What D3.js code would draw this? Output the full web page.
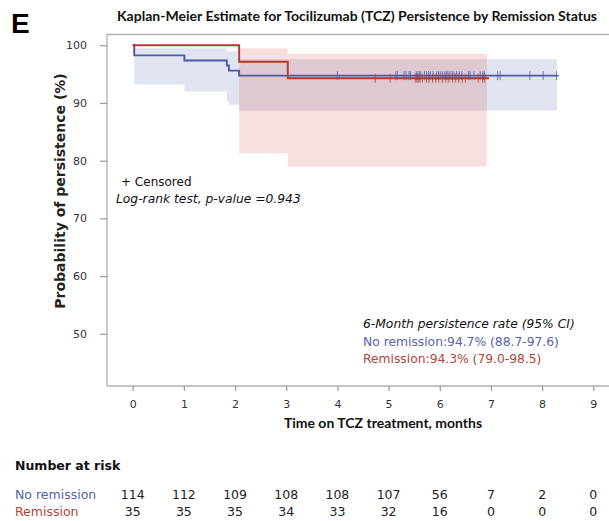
<!DOCTYPE html>
<html lang="en">
<head>
<meta charset="UTF-8">
<title>Kaplan-Meier Estimate for TCZ Persistence</title>
<script src="https://d3js.org/d3.v7.min.js"></script>
<style>
  body { margin: 0; background: #fff; }
  svg text { font-family: "DejaVu Sans", Verdana, sans-serif; }
</style>
</head>
<body>
<script>

// ---- data ----
var groups = ["No remission", "Remission"];
var groupColors = ["#4a5aa5", "#b3382d"];
var bandColors = ["rgba(60,80,160,0.16)", "rgba(215,75,75,0.18)"];

// step curves (time in months, survival %)
var noRemTimes = [0, 0.03, 1.01, 1.84, 1.88, 2.08, 8.32];
var noRemSurv  = [100, 98.25, 97.37, 96.49, 95.61, 94.74, 94.74];
var remTimes   = [0, 2.08, 3.03, 6.96];
var remSurv    = [100, 97.14, 94.29, 94.29];

// 95% CI bands
var noRemBandTimes = [0.03, 1.01, 1.84, 1.88, 2.08, 8.29];
var noRemLower     = [93.2, 92.0, 90.2, 89.7, 88.7, 88.7];
var noRemUpper     = [99.5, 99.5, 99.0, 99.0, 97.6, 97.6];
var remBandTimes   = [2.08, 3.03, 6.92];
var remLower       = [81.3, 79.0, 79.0];
var remUpper       = [99.5, 98.5, 98.5];

// censored times
var noRemCensor = [4.00, 5.14, 5.17, 5.30, 5.34, 5.40, 5.43, 5.54, 5.57, 5.60, 5.63, 5.70,
  5.74, 5.78, 5.82, 5.87, 5.94, 5.98, 6.02, 6.06, 6.10, 6.13, 6.16, 6.20, 6.24, 6.28,
  6.33, 6.38, 6.43, 6.56, 6.59, 6.67, 6.79, 6.84, 6.87, 7.13, 7.18, 7.76, 8.02, 8.28];
var remCensor = [4.74, 5.03, 5.52, 5.55, 5.58, 5.61, 5.66, 5.74, 5.79, 5.86, 5.92, 5.98,
  6.05, 6.12, 6.18, 6.25, 6.31, 6.37, 6.44, 6.50, 6.75, 6.84, 6.88];

var xTicks = [0, 1, 2, 3, 4, 5, 6, 7, 8, 9];
var yTicks = [50, 60, 70, 80, 90, 100];
var atRiskNoRem = [114, 112, 109, 108, 108, 107, 56, 7, 2, 0];
var atRiskRem   = [35, 35, 35, 34, 33, 32, 16, 0, 0, 0];

var legendLines = [
  "6-Month persistence rate (95% CI)",
  "No remission:94.7% (88.7-97.6)",
  "Remission:94.3% (79.0-98.5)"
];

// ---- layout ----
var width = 609, height = 521;
var frameLeft = 107, frameTop = 34.5, frameBottom = 386, frameRight = 609;

var svg = d3.select("body").append("svg")
    .attr("width", width)
    .attr("height", height);

var x = d3.scaleLinear().domain([0, 9]).range([132.7, 593.3]);
var y = d3.scaleLinear().domain([50, 100]).range([333.8, 45.3]);

// panel letter + title
svg.append("text")
    .attr("x", 11).attr("y", 33)
    .style("font-family", "'Liberation Sans', Arial, sans-serif")
    .style("font-weight", "bold")
    .style("font-size", "28px")
    .text("E");

svg.append("text")
    .attr("x", 117).attr("y", 21)
    .attr("textLength", 480)
    .attr("lengthAdjust", "spacingAndGlyphs")
    .style("font-family", "Lato, sans-serif")
    .style("font-weight", "bold")
    .style("font-size", "13px")
    .style("fill", "#111")
    .text("Kaplan-Meier Estimate for Tocilizumab (TCZ) Persistence by Remission Status");

// CI bands
function bandData(times, lo, hi) {
    return times.map(function(t, i) { return { t: t, lo: lo[i], hi: hi[i] }; });
}
var area = d3.area()
    .curve(d3.curveStepAfter)
    .x(function(d) { return x(d.t); })
    .y0(function(d) { return y(d.lo); })
    .y1(function(d) { return y(d.hi); });

svg.append("path")
    .datum(bandData(noRemBandTimes, noRemLower, noRemUpper))
    .attr("d", area)
    .style("fill", bandColors[0]);
svg.append("path")
    .datum(bandData(remBandTimes, remLower, remUpper))
    .attr("d", area)
    .style("fill", bandColors[1]);

// frame
var frame = svg.append("g").style("stroke", "#b0b0b0").style("stroke-width", 1.3).style("fill", "none");
frame.append("line").attr("x1", frameLeft).attr("x2", frameRight).attr("y1", frameTop).attr("y2", frameTop);
frame.append("line").attr("x1", frameLeft).attr("x2", frameLeft).attr("y1", frameTop).attr("y2", frameBottom);
frame.append("line").attr("x1", frameLeft).attr("x2", frameRight).attr("y1", frameBottom).attr("y2", frameBottom);

// axes
var yAxis = svg.append("g")
    .attr("transform", "translate(" + frameLeft + ",0)")
    .call(d3.axisLeft(y).tickValues(yTicks).tickSize(7).tickPadding(13));
var xAxis = svg.append("g")
    .attr("transform", "translate(0," + frameBottom + ")")
    .call(d3.axisBottom(x).tickValues(xTicks).tickSize(5).tickPadding(9));

[yAxis, xAxis].forEach(function(ax) {
    ax.select(".domain").remove();
    ax.selectAll(".tick line").style("stroke", "#9a9a9a").style("stroke-width", 1.2);
    ax.selectAll(".tick text")
        .style("font-family", "'DejaVu Sans', Verdana, sans-serif")
        .style("font-size", "11px")
        .style("fill", "#333");
});

// axis titles
svg.append("text")
    .attr("transform", "translate(65,191) rotate(-90)")
    .attr("text-anchor", "middle")
    .style("font-weight", "bold")
    .style("font-size", "14px")
    .style("fill", "#222")
    .text("Probability of persistence (%)");

svg.append("text")
    .attr("x", 383).attr("y", 428)
    .attr("text-anchor", "middle")
    .style("font-family", "Lato, sans-serif")
    .style("font-weight", "bold")
    .style("font-size", "14px")
    .style("fill", "#111")
    .text("Time on TCZ treatment, months");

// KM step lines
function stepData(times, surv) {
    return times.map(function(t, i) { return { t: t, s: surv[i] }; });
}
var line = d3.line()
    .curve(d3.curveStepAfter)
    .x(function(d) { return x(d.t); })
    .y(function(d) { return y(d.s); });

var curves = [
    { data: stepData(noRemTimes, noRemSurv), censor: noRemCensor, color: groupColors[0] },
    { data: stepData(remTimes, remSurv), censor: remCensor, color: groupColors[1] }
];

curves.forEach(function(c) {
    svg.append("path")
        .datum(c.data)
        .attr("d", line)
        .style("fill", "none")
        .style("stroke", c.color)
        .style("stroke-width", 1.9);
});

// censor marks: read survival at each time from the step function
curves.forEach(function(c) {
    var bis = d3.bisector(function(d) { return d.t; }).right;
    svg.append("g").selectAll("line")
        .data(c.censor)
        .enter().append("line")
        .attr("x1", function(t) { return x(t); })
        .attr("x2", function(t) { return x(t); })
        .attr("y1", function(t) { return y(c.data[bis(c.data, t) - 1].s) - 4.5; })
        .attr("y2", function(t) { return y(c.data[bis(c.data, t) - 1].s) + 4.5; })
        .style("stroke", c.color)
        .style("stroke-opacity", 0.75)
        .style("stroke-width", 1);
});

// annotations
svg.append("text")
    .attr("x", 121).attr("y", 186)
    .style("font-size", "12px").style("fill", "#111")
    .text("+ Censored");
svg.append("text")
    .attr("x", 116).attr("y", 203)
    .style("font-size", "12.3px").style("font-style", "italic").style("fill", "#111")
    .text("Log-rank test, p-value =0.943");

var legendColors = ["#111", "#5565a8", "#b4443a"];
svg.append("g").selectAll("text")
    .data(legendLines)
    .enter().append("text")
    .attr("x", 363)
    .attr("y", function(d, i) { return 328 + i * 17.5; })
    .style("font-size", "12.3px")
    .style("font-style", function(d, i) { return i === 0 ? "italic" : "normal"; })
    .style("fill", function(d, i) { return legendColors[i]; })
    .text(function(d) { return d; });

// number at risk table
svg.append("text")
    .attr("x", 15).attr("y", 470)
    .style("font-weight", "bold").style("font-size", "12.5px").style("fill", "#111")
    .text("Number at risk");

var rows = [atRiskNoRem, atRiskRem];
rows.forEach(function(vals, r) {
    var yy = 499 + r * 17;
    svg.append("text")
        .attr("x", 15).attr("y", yy)
        .style("font-size", "12.5px")
        .style("fill", legendColors[r + 1])
        .text(groups[r]);
    svg.append("g").selectAll("text")
        .data(vals)
        .enter().append("text")
        .attr("x", function(d, i) { return x(xTicks[i]); })
        .attr("y", yy)
        .attr("text-anchor", "middle")
        .style("font-size", "12.5px")
        .style("fill", "#222")
        .text(function(d) { return d; });
});

</script>
</body>
</html>
